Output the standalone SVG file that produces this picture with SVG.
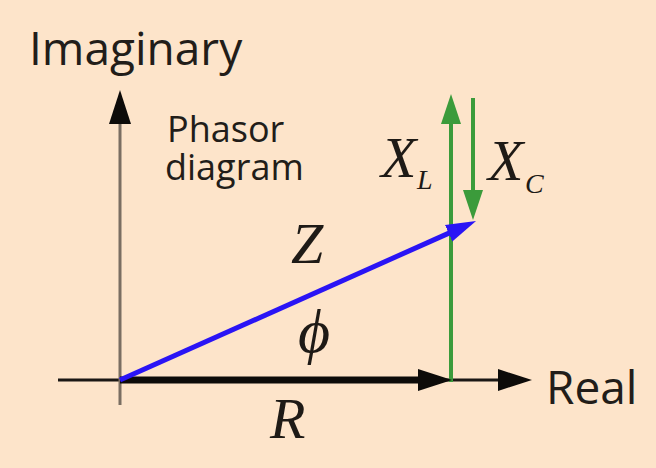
<svg xmlns="http://www.w3.org/2000/svg" width="656" height="468" viewBox="0 0 656 468">
  <style>
    .sans { font-family: "Open Sans", "Noto Sans", "Liberation Sans", sans-serif; fill: #221d19; }
    .math { font-family: "Liberation Serif", "DejaVu Serif", serif; font-style: italic; fill: #1e1a16; }
    .axis { stroke: #1a1714; stroke-width: 3; fill: none; }
    .yaxis { stroke: #7a6e62; stroke-width: 3; fill: none; }
    .rvec { stroke: #0d0b09; stroke-width: 7; fill: none; }
    .gvec { stroke: #3b9b3b; stroke-width: 4; fill: none; }
    .bvec { stroke: #2a14f5; stroke-width: 5; fill: none; }
  </style>
  <defs>
    <marker id="ah-black" viewBox="0 -12 34 24" markerWidth="34" markerHeight="24" refX="4" refY="0" markerUnits="userSpaceOnUse" orient="auto">
      <path d="M0,-11 L34,0 L0,11 z" fill="#0d0b09"/>
    </marker>
    <marker id="ah-green" viewBox="0 -11 30 22" markerWidth="30" markerHeight="22" refX="4" refY="0" markerUnits="userSpaceOnUse" orient="auto">
      <path d="M0,-10 L30,0 L0,10 z" fill="#3b9b3b"/>
    </marker>
    <marker id="ah-blue" viewBox="0 -10 30 20" markerWidth="30" markerHeight="20" refX="4" refY="0" markerUnits="userSpaceOnUse" orient="auto">
      <path d="M0,-9 L30,0 L0,9 z" fill="#2a14f5"/>
    </marker>
  </defs>

  <rect x="0" y="0" width="656" height="468" fill="#fde4ca"/>

  <g id="connectors">
    <line id="real-axis" class="axis" x1="58" y1="380" x2="502" y2="380" marker-end="url(#ah-black)"/>
    <line id="imag-axis" class="yaxis" x1="120" y1="405" x2="120" y2="120" marker-end="url(#ah-black)"/>
    <line id="XL" class="gvec" x1="451" y1="382" x2="451" y2="120" marker-end="url(#ah-green)"/>
    <line id="XC" class="gvec" x1="473" y1="98" x2="473" y2="194" marker-end="url(#ah-green)"/>
    <line id="R" class="rvec" x1="120" y1="380" x2="422" y2="380" marker-end="url(#ah-black)"/>
    <line id="Z" class="bvec" x1="120" y1="380" x2="452.3" y2="231.6" marker-end="url(#ah-blue)"/>
  </g>

  <g id="label-imaginary"><text class="sans" x="29" y="65" font-size="46">Imaginary</text></g>
  <g id="label-real"><text class="sans" x="546" y="404" font-size="46">Real</text></g>
  <g id="label-phasor">
    <text class="sans" x="167" y="142" font-size="36">Phasor</text>
    <text class="sans" x="165" y="180" font-size="36">diagram</text>
  </g>
  <g id="label-XL"><text class="math"><tspan x="381" y="177" font-size="58">X</tspan><tspan x="417" y="189" font-size="28">L</tspan></text></g>
  <g id="label-XC"><text class="math"><tspan x="488" y="180" font-size="58">X</tspan><tspan x="525" y="193" font-size="28">C</tspan></text></g>
  <g id="label-Z"><text class="math" x="291" y="263" font-size="58">Z</text></g>
  <g id="label-phi"><text class="math" x="298" y="352" font-size="62">ϕ</text></g>
  <g id="label-R"><text class="math" x="270" y="438" font-size="58">R</text></g>
</svg>
